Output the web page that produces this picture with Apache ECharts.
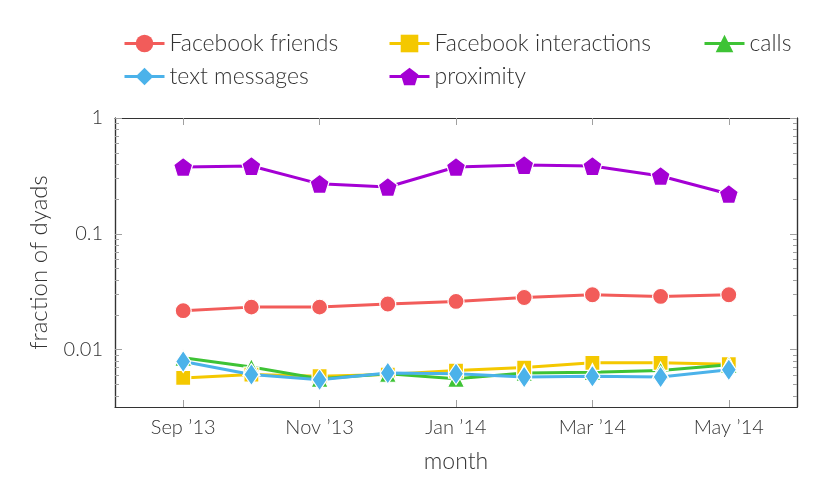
<!DOCTYPE html>
<html>
<head>
<meta charset="utf-8">
<script src="https://cdn.jsdelivr.net/npm/echarts@6/dist/echarts.min.js"></script>
<style>html,body{margin:0;padding:0;background:#fff}#c{width:830px;height:500px}</style>
</head>
<body>
<div id="c"></div>
<script>
const months = ["Sep ’13","Oct ’13","Nov ’13","Dec ’13","Jan ’14","Feb ’14","Mar ’14","Apr ’14","May ’14"];
const facebookFriends = [0.0217,0.0233,0.0233,0.0248,0.0261,0.0282,0.0298,0.0288,0.0298];
const facebookInteractions = [0.0057,0.0061,0.0059,0.0061,0.0066,0.0070,0.0077,0.0077,0.0075];
const calls = [0.0085,0.0071,0.0056,0.0062,0.0056,0.0063,0.0064,0.0066,0.0074];
const textMessages = [0.0079,0.0061,0.0055,0.0063,0.0062,0.0058,0.0059,0.0058,0.0067];
const proximity = [0.378,0.385,0.270,0.254,0.378,0.393,0.385,0.316,0.221];
const xTickIdx = [0,2,4,6,8];
const yMajor = [0.01,0.1,1];
const yMinor = [0.004,0.005,0.006,0.007,0.008,0.009,0.02,0.03,0.04,0.05,0.06,0.07,0.08,0.09,0.2,0.3,0.4,0.5,0.6,0.7,0.8,0.9];

const FONT = "Lato, 'Open Sans', 'DejaVu Sans', sans-serif";
const TXT = '#333';
const TICK = '#a0a0a0';
const pentagon = 'path://M0,-1L0.951,-0.309L0.588,0.809L-0.588,0.809L-0.951,-0.309Z';
const YMIN = 0.0032, YMAX = 1;

function pts(arr){ return arr.map((v,i)=>[i,v]); }
function ser(name, data, color, symbol, size){
  return {name, type:'line', data:pts(data), color, symbol, symbolSize:size,
    lineStyle:{width:3,color}, itemStyle:{color,borderColor:'#fff',borderWidth:1.2},
    emphasis:{disabled:true}, animation:false, z:2};
}
function yax(pos, vals, len, labels){
  return {type:'log', min:YMIN, max:YMAX, position:pos, splitLine:{show:false},
    axisLine:{show:true, onZero:false, lineStyle:{color:'#333',width:1.2}},
    axisTick:{show:true, inside:true, length:len, customValues:vals, lineStyle:{color:TICK,width:1}},
    axisLabel:{show:labels, customValues:labels?vals:undefined, formatter:v=>String(v), fontFamily:FONT, fontWeight:300, fontSize:20, color:TXT, margin:12},
    minorTick:{show:false}};
}
function xax(pos, labels){
  const a = {type:'value', min:-1, max:9, position:pos, splitLine:{show:false},
    axisLine:{show:true, onZero:false, lineStyle:{color:'#333',width:1.2}},
    axisTick:{show:true, inside:true, length:7, customValues:xTickIdx, lineStyle:{color:TICK,width:1}},
    axisLabel:{show:labels, customValues:labels?xTickIdx:undefined, formatter:v=>months[v], fontFamily:FONT, fontWeight:300, fontSize:20, color:TXT, margin:11}};
  return a;
}
function leg(name, left, top){
  return {data:[name], left, top, itemWidth:40, itemHeight:22, itemGap:10,
    lineStyle:{width:3}, itemStyle:{borderWidth:0},
    textStyle:{fontFamily:FONT, fontWeight:300, fontSize:23, color:TXT}, selectedMode:false};
}
const yAxes = [yax('left', yMajor, 7, true), yax('left', yMinor, 4, false), yax('right', yMajor, 7, false), yax('right', yMinor, 4, false)];
yAxes[0].name = 'fraction of dyads';
yAxes[0].nameLocation = 'middle';
yAxes[0].nameRotate = 90;
yAxes[0].nameGap = 64;
yAxes[0].nameTextStyle = {fontFamily:FONT, fontWeight:300, fontSize:24, color:TXT};
const xAxes = [xax('bottom', true), xax('top', false)];
xAxes[0].name = 'month';
xAxes[0].nameLocation = 'middle';
xAxes[0].nameGap = 43;
xAxes[0].nameTextStyle = {fontFamily:FONT, fontWeight:300, fontSize:23, color:TXT};

const option = {
  animation:false,
  grid:{left:115, right:33, top:118, bottom:93, show:false, containLabel:false},
  legend:[
    leg('Facebook friends',118,27), leg('Facebook interactions',383,27), leg('calls',698,27),
    leg('text messages',118,60), leg('proximity',383,60)
  ],
  xAxis:xAxes,
  yAxis:yAxes,
  series:[
    ser('Facebook friends', facebookFriends, '#F25C5A', 'circle', 16),
    ser('Facebook interactions', facebookInteractions, '#F4C800', 'rect', 15),
    ser('calls', calls, '#3EC335', 'triangle', 17),
    ser('text messages', textMessages, '#4BB2EA', 'diamond', [15,22]),
    ser('proximity', proximity, '#A400D4', pentagon, 19)
  ]
};
echarts.init(document.getElementById('c'), null, {renderer:'canvas'}).setOption(option);
</script>
</body>
</html>
